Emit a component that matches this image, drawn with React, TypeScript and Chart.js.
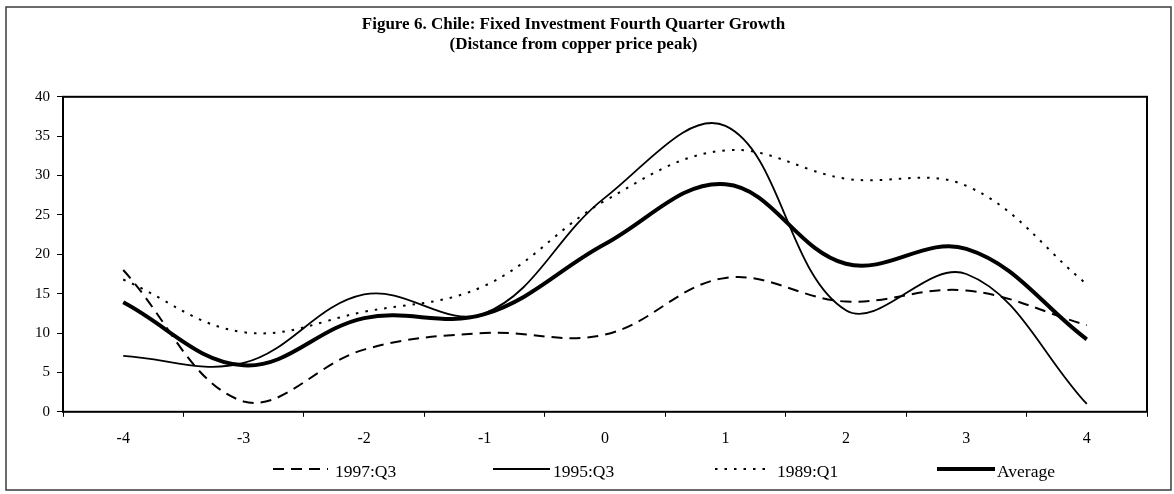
import { useEffect, useRef } from "react";
import { Chart, registerables } from "chart.js";

Chart.register(...registerables);

const categories = ["-4", "-3", "-2", "-1", "0", "1", "2", "3", "4"];
const yTickValues = [0, 5, 10, 15, 20, 25, 30, 35, 40];
const titleLines = [
  "Figure 6. Chile: Fixed Investment Fourth Quarter Growth",
  "(Distance from copper price peak)",
];
const seriesLabels = ["1997:Q3", "1995:Q3", "1989:Q1", "Average"];
const series1997Q3 = [18.0, 1.3, 7.9, 10.0, 9.8, 17.0, 14.0, 15.4, 11.0];
const series1995Q3 = [7.1, 6.2, 14.9, 12.5, 27.2, 36.3, 12.9, 17.5, 1.0];
const series1989Q1 = [16.8, 10.1, 12.7, 16.0, 26.8, 33.2, 29.6, 28.7, 16.2];
const seriesAverage = [13.9, 5.9, 11.9, 12.4, 21.3, 28.9, 18.8, 20.7, 9.2];

const FONT = "'Liberation Serif', 'Times New Roman', serif";

export default function App() {
  const ref = useRef<HTMLCanvasElement>(null);

  useEffect(() => {
    const canvas = ref.current;
    if (!canvas) return;

    const legendSamples = [
      [273, 328, 335],
      [493, 550, 553],
      [715, 767, 777],
      [937, 995, 997],
    ];

    const framePlugin = {
      id: "frames",
      beforeDraw(chart: any) {
        const { ctx, width, height } = chart;
        ctx.save();
        ctx.fillStyle = "#ffffff";
        ctx.fillRect(0, 0, width, height);
        ctx.strokeStyle = "#3a3a3a";
        ctx.lineWidth = 1.5;
        ctx.strokeRect(6, 7, 1165, 483);
        ctx.restore();
      },
      afterDatasetsDraw(chart: any) {
        const { ctx, chartArea: a } = chart;
        ctx.save();
        ctx.strokeStyle = "#000";
        ctx.lineWidth = 2;
        ctx.strokeRect(a.left, a.top, a.right - a.left, a.bottom - a.top);
        ctx.restore();
      },
      afterDraw(chart: any) {
        const { ctx } = chart;
        ctx.save();
        chart.data.datasets.forEach((ds: any, i: number) => {
          const [x0, x1, tx] = legendSamples[i];
          ctx.beginPath();
          ctx.setLineDash(ds.borderDash || []);
          ctx.lineWidth = ds.borderWidth;
          ctx.strokeStyle = "#000";
          ctx.lineCap = "butt";
          ctx.moveTo(x0, 469);
          ctx.lineTo(x1, 469);
          ctx.stroke();
          ctx.setLineDash([]);
          ctx.fillStyle = "#000";
          ctx.font = `17.5px ${FONT}`;
          ctx.textBaseline = "middle";
          ctx.textAlign = "left";
          ctx.fillText(ds.label, tx, 472);
        });
        ctx.restore();
      },
    };

    const chart = new Chart(canvas, {
      type: "line",
      data: {
        labels: categories,
        datasets: [
          {
            label: seriesLabels[0],
            data: series1997Q3,
            borderColor: "#000",
            borderWidth: 2,
            borderDash: [11, 7],
          },
          {
            label: seriesLabels[1],
            data: series1995Q3,
            borderColor: "#000",
            borderWidth: 1.8,
            borderDash: [],
          },
          {
            label: seriesLabels[2],
            data: series1989Q1,
            borderColor: "#000",
            borderWidth: 2,
            borderDash: [2.5, 7],
          },
          {
            label: seriesLabels[3],
            data: seriesAverage,
            borderColor: "#000",
            borderWidth: 4,
            borderDash: [],
          },
        ],
      },
      options: {
        animation: false,
        responsive: false,
        devicePixelRatio: 1,
        events: [],
        elements: {
          point: { radius: 0 },
          line: { tension: 0.38, fill: false, borderCapStyle: "butt" },
        },
        layout: { padding: { top: 0, right: 27, bottom: 34, left: 0 } },
        plugins: {
          legend: { display: false },
          tooltip: { enabled: false },
          title: {
            display: true,
            text: titleLines,
            color: "#000",
            font: { family: FONT, size: 17, weight: "bold", lineHeight: 1.2 },
            padding: { top: 14, bottom: 42 },
          },
        },
        scales: {
          x: {
            type: "category",
            offset: true,
            border: { display: false },
            grid: {
              offset: true,
              drawOnChartArea: false,
              drawTicks: true,
              tickLength: 5,
              color: "#000",
              lineWidth: 1,
            },
            ticks: {
              color: "#000",
              font: { family: FONT, size: 16 },
              padding: 12,
              maxRotation: 0,
              autoSkip: false,
            },
          },
          y: {
            min: 0,
            max: 40,
            border: { display: false },
            grid: {
              drawOnChartArea: false,
              drawTicks: true,
              tickLength: 6,
              color: "#000",
              lineWidth: 1,
            },
            afterBuildTicks: (scale: any) => {
              scale.ticks = yTickValues.map((v) => ({ value: v }));
            },
            afterFit: (scale: any) => {
              scale.width = 63;
            },
            ticks: {
              color: "#000",
              font: { family: FONT, size: 15 },
              padding: 7,
            },
          },
        },
      },
      plugins: [framePlugin],
    });

    return () => chart.destroy();
  }, []);

  return (
    <div
      style={{
        position: "fixed",
        left: 0,
        top: 0,
        width: 1174,
        height: 494,
        background: "#fff",
      }}
    >
      <canvas
        ref={ref}
        width={1174}
        height={494}
        style={{ display: "block", width: 1174, height: 494 }}
      />
    </div>
  );
}
